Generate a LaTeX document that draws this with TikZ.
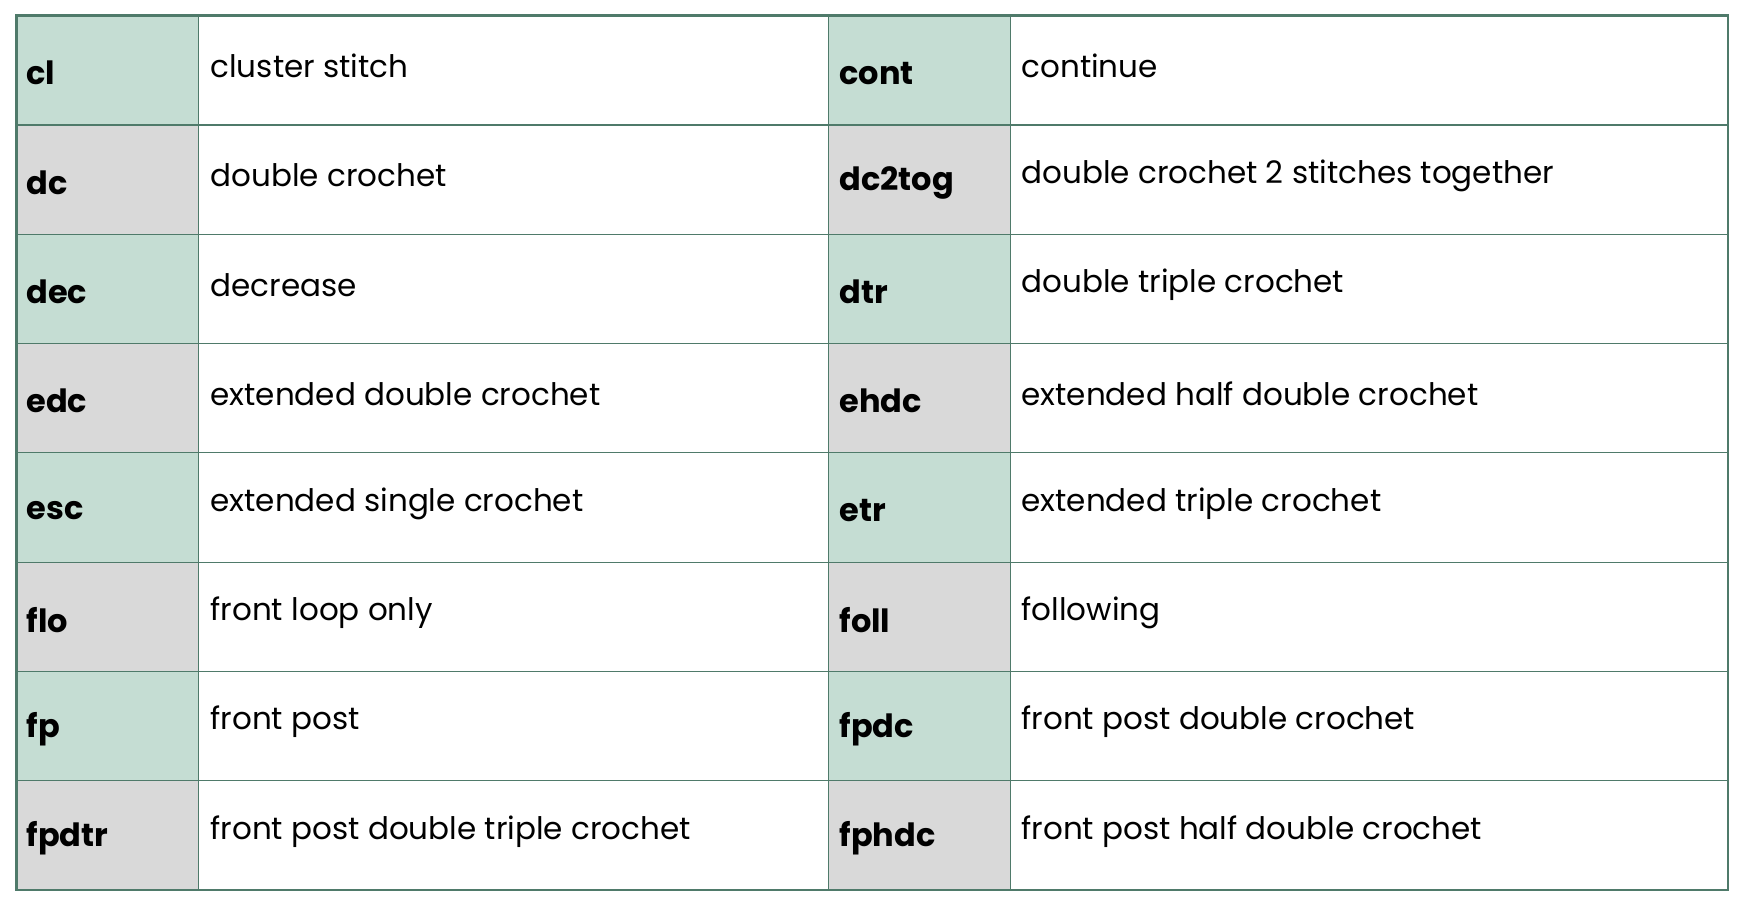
\documentclass[tikz,border=0pt]{standalone}
\usepackage{fontspec}
\setmainfont{Poppins}
\definecolor{kgreen}{HTML}{C5DDD3}
\definecolor{kgray}{HTML}{D9D9D9}
\definecolor{bord}{HTML}{4F7A6A}
\begin{document}
\begin{tikzpicture}[x=1pt,y=-1pt,
  keytxt/.style={anchor=west,font=\fontsize{32}{36}\selectfont\bfseries},
  desctxt/.style={anchor=west,font=\fontsize{31}{36}\selectfont}]
\useasboundingbox (0,0) rectangle (1748,900);
\fill[white] (0,0) rectangle (1748,900);
\def\rh{109.3}
\foreach \i/\a/\b/\c/\d in {0/cl/cluster stitch/cont/continue,
 1/dc/double crochet/dc2tog/double crochet 2 stitches together,
 2/dec/decrease/dtr/double triple crochet,
 3/edc/extended double crochet/ehdc/extended half double crochet,
 4/esc/extended single crochet/etr/extended triple crochet,
 5/flo/front loop only/foll/following,
 6/fp/front post/fpdc/front post double crochet,
 7/fpdtr/front post double triple crochet/fphdc/front post half double crochet}{
  \pgfmathsetmacro\yt{15.6+\i*\rh}
  \pgfmathsetmacro\yb{\yt+\rh}
  \pgfmathsetmacro\ym{\yt+0.5*\rh}
  \pgfmathparse{mod(\i,2)==0?"kgreen":"kgray"}\edef\cc{\pgfmathresult}
  \fill[\cc] (16.7,\yt) rectangle (198.5,\yb);
  \fill[\cc] (828,\yt) rectangle (1010,\yb);
  \node[keytxt] (k\i) at (23,\ym+3) {\a};
  \node[desctxt] (d\i) at (207,\ym-4) {\b};
  \node[keytxt] (kk\i) at (836,\ym+3) {\c};
  \node[desctxt] (dd\i) at (1018,\ym-4) {\d};
  \ifnum\i>0 \draw[bord,line width=1.2pt] (16.7,\yt) -- (1728,\yt); \fi
}
\draw[bord,line width=1pt] (198.5,15.6) -- (198.5,890);
\draw[bord,line width=1pt] (828,15.6) -- (828,890);
\draw[bord,line width=1pt] (1010,15.6) -- (1010,890);
\draw[bord,line width=2.5pt] (16.7,15.6) rectangle (1728,890);
\end{tikzpicture}
\end{document}
